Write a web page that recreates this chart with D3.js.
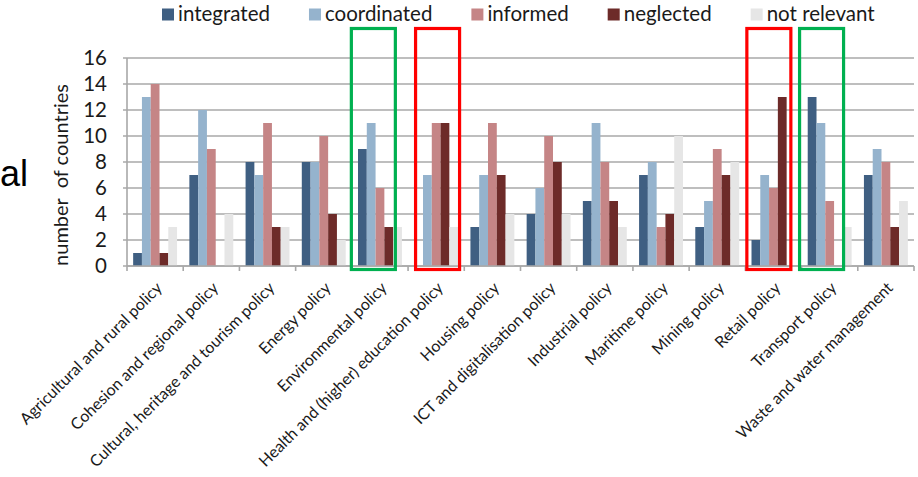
<!DOCTYPE html>
<html>
<head>
<meta charset="utf-8">
<script src="https://cdn.jsdelivr.net/npm/d3@7"></script>
<style>
  html, body { margin: 0; padding: 0; background: #fff; }
  svg { display: block; }
  text { font-family: Lato, "Open Sans", sans-serif; fill: #1a1a1a; }
</style>
</head>
<body>
<svg id="chart" width="918" height="477"></svg>
<script>
// Policy areas shown along the x axis
const categories = [
  "Agricultural and rural policy",
  "Cohesion and regional policy",
  "Cultural, heritage and tourism policy",
  "Energy policy",
  "Environmental policy",
  "Health and (higher) education policy",
  "Housing policy",
  "ICT and digitalisation policy",
  "Industrial policy",
  "Maritime policy",
  "Mining policy",
  "Retail policy",
  "Transport policy",
  "Waste and water management"
];

const seriesNames = ["integrated", "coordinated", "informed", "neglected", "not relevant"];

// Number of countries per policy area, one array per series
const integrated  = [1, 7, 8, 8, 9, 0, 3, 4, 5, 7, 3, 2, 13, 7];
const coordinated = [13, 12, 7, 8, 11, 7, 7, 6, 11, 8, 5, 7, 11, 9];
const informed    = [14, 9, 11, 10, 6, 11, 11, 10, 8, 3, 9, 6, 5, 8];
const neglected   = [1, 0, 3, 4, 3, 11, 7, 8, 5, 4, 7, 13, 0, 3];
const notRelevant = [3, 4, 3, 2, 3, 3, 4, 4, 3, 10, 8, 0, 3, 5];

const yTicks = [0, 2, 4, 6, 8, 10, 12, 14, 16];

// Policy areas picked out with a frame
const highlighted = [
  { category: "Environmental policy", color: "#00b050" },
  { category: "Health and (higher) education policy", color: "#ff0000" },
  { category: "Retail policy", color: "#ff0000" },
  { category: "Transport policy", color: "#00b050" }
];

const seriesValues = [integrated, coordinated, informed, neglected, notRelevant];
const colors = ["#3f5f82", "#95b3cd", "#c58586", "#6d2b29", "#e6e6e6"];

const svg = d3.select("#chart");

const plot = { left: 127, right: 914, top: 58, bottom: 266 };

const y = d3.scaleLinear().domain([0, 16]).range([plot.bottom, plot.top]);
const x0 = d3.scaleBand().domain(categories).range([plot.left, plot.right]).padding(0);
const x1 = d3.scaleBand().domain(seriesNames).range([0, x0.bandwidth()])
  .paddingInner(0).paddingOuter(0.7);

// Horizontal gridlines
svg.append("g")
  .selectAll("line")
  .data(yTicks)
  .join("line")
  .attr("x1", plot.left - 4)
  .attr("x2", plot.right)
  .attr("y1", d => y(d))
  .attr("y2", d => y(d))
  .attr("stroke", "#a8a8a8")
  .attr("stroke-width", 1.6);

// Y axis line
svg.append("line")
  .attr("x1", plot.left).attr("x2", plot.left)
  .attr("y1", y(16)).attr("y2", y(0))
  .attr("stroke", "#a8a8a8").attr("stroke-width", 1.6);

// Y tick labels
svg.append("g")
  .selectAll("text")
  .data(yTicks)
  .join("text")
  .attr("x", 107)
  .attr("y", d => y(d))
  .attr("dy", "0.36em")
  .attr("text-anchor", "end")
  .style("font-size", "20.5px")
  .text(d => d);

// Bars
const groups = svg.append("g")
  .selectAll("g")
  .data(categories)
  .join("g")
  .attr("transform", d => `translate(${x0(d)},0)`);

groups.selectAll("rect")
  .data((d, i) => seriesNames.map((s, k) => ({ s, k, v: seriesValues[k][i] })))
  .join("rect")
  .attr("x", d => x1(d.s))
  .attr("width", x1.bandwidth())
  .attr("y", d => y(d.v))
  .attr("height", d => y(0) - y(d.v))
  .attr("fill", d => colors[d.k]);

// X axis line and tick marks at category boundaries
svg.append("line")
  .attr("x1", plot.left).attr("x2", plot.right)
  .attr("y1", y(0)).attr("y2", y(0))
  .attr("stroke", "#a8a8a8").attr("stroke-width", 1.6);

const boundaries = categories.map(c => x0(c)).concat([plot.right]);
svg.append("g")
  .selectAll("line")
  .data(boundaries)
  .join("line")
  .attr("x1", d => d).attr("x2", d => d)
  .attr("y1", y(0)).attr("y2", y(0) + 5)
  .attr("stroke", "#a8a8a8").attr("stroke-width", 1.6);

// Rotated category labels
svg.append("g")
  .selectAll("text")
  .data(categories)
  .join("text")
  .attr("text-anchor", "end")
  .style("font-size", "16px")
  .attr("transform", d => `translate(${x0(d) + x0.bandwidth() / 2 + 8},${y(0) + 23}) rotate(-45)`)
  .text(d => d);

// Y axis title
svg.append("text")
  .attr("transform", `translate(68,${(plot.top + plot.bottom) / 2 + 13}) rotate(-90)`)
  .attr("text-anchor", "middle")
  .style("font-size", "20px")
  .style("white-space", "pre")
  .text("number  of countries");

// Frames around highlighted policy areas
const frameNudge = { "Environmental policy": -2, "Health and (higher) education policy": 6,
  "Retail policy": 0, "Transport policy": -3.5 };
svg.append("g")
  .selectAll("rect")
  .data(highlighted)
  .join("rect")
  .attr("x", d => x0(d.category) + frameNudge[d.category] + 1.5)
  .attr("y", 28.5)
  .attr("width", 44)
  .attr("height", y(0) + 3.5 - 28.5)
  .attr("fill", "none")
  .attr("stroke", d => d.color)
  .attr("stroke-width", 3.2);

// Legend
const legend = svg.append("g");
let lx = 162;
seriesNames.forEach((name, k) => {
  legend.append("rect")
    .attr("x", lx).attr("y", 8.5)
    .attr("width", 12).attr("height", 12)
    .attr("fill", colors[k]);
  const t = legend.append("text")
    .attr("x", lx + 16)
    .attr("y", 21)
    .style("font-size", "20.5px")
    .text(name);
  lx += 16 + t.node().getComputedTextLength() + 39;
});

// Fragment of adjacent slide text
svg.append("text")
  .attr("x", 0)
  .attr("y", 186)
  .style("font-family", "'Liberation Sans', Arial, sans-serif")
  .style("font-size", "36px")
  .style("fill", "#000")
  .text("al");
</script>
</body>
</html>
